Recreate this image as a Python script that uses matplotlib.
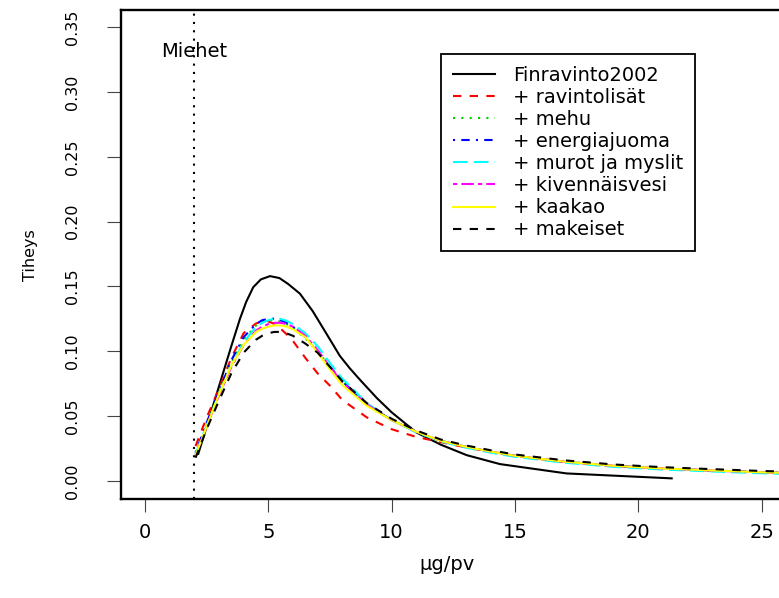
# DENSITY OF INTAKE (MEN) - FINRAVINTO 2002 + ADDED SOURCES

import matplotlib
matplotlib.use("Agg")
import matplotlib.pyplot as plt

plt.rcParams["font.family"] = ["DejaVu Sans"]

# 1. DATA
fin_x = [2.16, 2.5, 3.0, 3.5, 3.85, 4.1, 4.39, 4.7, 5.07, 5.45, 5.8, 6.28, 6.8,
         7.36, 7.9, 8.3, 8.72, 9.4, 10.0, 11.0, 12.0, 13.04, 14.39, 17.09, 21.35]
fin_y = [0.021, 0.042, 0.073, 0.104, 0.125, 0.138, 0.1495, 0.1555, 0.158, 0.1565, 0.152, 0.1445, 0.131,
         0.1135, 0.0965, 0.087, 0.078, 0.064, 0.053, 0.0375, 0.028, 0.020, 0.0131, 0.0059, 0.0021]

x_pts = [2.05, 2.5, 3.0, 3.5, 4.0, 4.5, 4.75, 5.0, 5.25, 5.5, 5.75, 6.0, 6.5, 7.0, 7.5, 8.0,
         9.0, 10.0, 11.0, 12.0, 13.0, 14.0, 15.0, 17.0, 19.0, 21.0, 23.0, 25.0, 26.0]

ravintolisat = [0.027, 0.049, 0.071, 0.095, 0.114, 0.1215, 0.123, 0.1232, 0.121, 0.1175, 0.113, 0.108,
                0.095, 0.083, 0.0735, 0.0625, 0.049, 0.040, 0.034, 0.030, 0.026, 0.0225, 0.0193,
                0.0148, 0.0117, 0.0096, 0.0081, 0.0067, 0.0062]
mehu = [0.021, 0.044, 0.068, 0.091, 0.109, 0.120, 0.123, 0.124, 0.124, 0.123, 0.121, 0.118,
        0.110, 0.100, 0.088, 0.077, 0.059, 0.047, 0.038, 0.031, 0.0265, 0.0228, 0.0195,
        0.015, 0.0118, 0.0097, 0.0082, 0.0068, 0.0063]
energiajuoma = [0.022, 0.045, 0.069, 0.093, 0.111, 0.121, 0.124, 0.125, 0.1252, 0.124, 0.122, 0.119,
                0.111, 0.100, 0.088, 0.077, 0.059, 0.047, 0.038, 0.031, 0.0265, 0.0228, 0.0195,
                0.015, 0.0118, 0.0097, 0.0082, 0.0068, 0.0063]
murot = [0.021, 0.043, 0.067, 0.089, 0.107, 0.119, 0.122, 0.124, 0.1252, 0.125, 0.1235, 0.121,
         0.114, 0.104, 0.091, 0.079, 0.060, 0.047, 0.0375, 0.0305, 0.0258, 0.022, 0.0187,
         0.0142, 0.011, 0.0089, 0.0074, 0.006, 0.0055]
kivennaisvesi = [0.020, 0.042, 0.066, 0.088, 0.105, 0.116, 0.119, 0.121, 0.122, 0.122, 0.121, 0.119,
                 0.112, 0.101, 0.088, 0.076, 0.059, 0.047, 0.038, 0.031, 0.0265, 0.0228, 0.0195,
                 0.015, 0.0118, 0.0097, 0.0082, 0.0068, 0.0063]
kaakao = [0.020, 0.042, 0.067, 0.089, 0.105, 0.115, 0.1175, 0.119, 0.120, 0.120, 0.119, 0.117,
          0.111, 0.099, 0.086, 0.074, 0.058, 0.047, 0.038, 0.031, 0.0265, 0.0228, 0.0195,
          0.015, 0.0118, 0.0097, 0.0082, 0.0068, 0.0063]
makeiset = [0.018, 0.040, 0.062, 0.083, 0.099, 0.109, 0.112, 0.114, 0.115, 0.115, 0.1138, 0.112,
            0.106, 0.099, 0.088, 0.077, 0.060, 0.048, 0.039, 0.032, 0.0275, 0.0238, 0.0205,
            0.016, 0.0128, 0.0107, 0.0092, 0.0078, 0.0073]

labels = ["Finravinto2002", "+ ravintolisät", "+ mehu", "+ energiajuoma",
          "+ murot ja myslit", "+ kivennäisvesi", "+ kaakao", "+ makeiset"]
series = [ravintolisat, mehu, energiajuoma, murot, kivennaisvesi, kaakao, makeiset]
colors = ["black", "red", "#00CD00", "blue", "cyan", "magenta", "yellow", "black"]
dashes = [None, (4, 4), (1, 3), (1, 3, 4, 3), (7, 3), (2, 2, 6, 2), None, (4, 4)]

x_ticks = [0, 5, 10, 15, 20, 25]
y_ticks = [0.00, 0.05, 0.10, 0.15, 0.20, 0.25, 0.30, 0.35]

# 2. FIGURE
fig = plt.figure(figsize=(7.79, 5.98), dpi=100)
ax = fig.add_axes([0.1549, 0.1660, 0.8476, 0.8172])

ax.plot(fin_x, fin_y, color=colors[0], lw=1.5, label=labels[0])
for i, ys in enumerate(series, start=1):
    if dashes[i] is None:
        ax.plot(x_pts, ys, color=colors[i], lw=1.5, label=labels[i])
    else:
        ax.plot(x_pts, ys, color=colors[i], lw=1.5, dashes=dashes[i], label=labels[i])

# reference line at 2 ug/pv
ax.axvline(2, color="black", lw=1.5, dashes=(1, 3))
ax.text(2, 0.327, "Miehet", ha="center", va="baseline", fontsize=14)

# 3. AXES
ax.set_xlim(-0.985, 25.78)
ax.set_ylim(-0.0136, 0.3631)
ax.set_xticks(x_ticks)
ax.set_yticks(y_ticks)
ax.set_yticklabels([f"{v:.2f}" for v in y_ticks], rotation=90, va="center", fontsize=11.5)
ax.set_xticklabels([str(v) for v in x_ticks], fontsize=14)
ax.tick_params(axis="x", length=9.5, width=0.8, pad=8, color="#444444")
ax.tick_params(axis="y", length=10, width=0.8, pad=19, color="#444444")
for side in ["left", "bottom", "top"]:
    ax.spines[side].set_linewidth(1.7)
ax.spines["right"].set_visible(False)

fig.text(447 / 779, 1 - 565 / 598, "µg/pv", ha="center", va="center", fontsize=14)
fig.text(30 / 779, 1 - 255 / 598, "Tiheys", ha="center", va="center", rotation=90, fontsize=11.5)

# 4. LEGEND
leg = ax.legend(loc="upper left", bbox_to_anchor=(441 / 779, 1 - 54 / 598),
                bbox_transform=fig.transFigure, fontsize=14, frameon=True,
                fancybox=False, framealpha=1, edgecolor="black", borderaxespad=0,
                handlelength=2.2, handletextpad=0.9, labelspacing=0.16, borderpad=0.6)
leg.get_frame().set_linewidth(1.3)

fig.savefig("out.png", dpi=100)
